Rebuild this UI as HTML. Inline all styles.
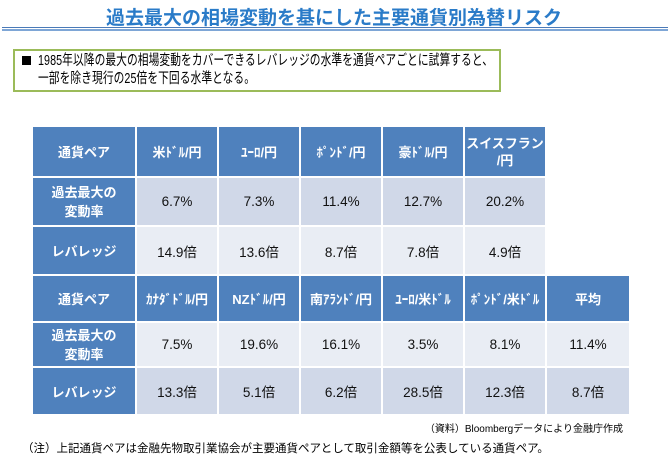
<!DOCTYPE html><html><head><meta charset="utf-8"><style>
body{margin:0;width:668px;height:461px;background:#fff;font-family:"Liberation Sans","Noto Sans CJK JP",sans-serif;position:relative;overflow:hidden}
.t{position:absolute;left:0;width:668px;top:3px;text-align:center;font-size:19px;font-weight:bold;color:#2a7bc8}
.l1{position:absolute;left:2px;width:666px;top:27px;height:1px;background:#4a7ab8}
.l2{position:absolute;left:2px;width:666px;top:29px;height:2px;background:#7ea6d6}
.box{position:absolute;left:13px;top:49px;width:484px;height:39px;border:2px solid #9bbb59;font-size:14.5px;line-height:18px}
.box .sq{position:absolute;left:7px;top:5px;width:9px;height:9px;background:#000}
.box .tx{position:absolute;left:23px;top:1px;white-space:nowrap;letter-spacing:0.1px;transform:scaleX(0.74);transform-origin:0 0}
table{position:absolute;border-collapse:collapse;font-size:13.5px;table-layout:fixed}
td{border:2px solid #fff;text-align:center;padding:0;color:#111;white-space:nowrap;overflow:hidden}
td.h{background:#4f81bd;color:#fff;font-weight:bold;font-size:13px}
.d{background:#d0d8e8}.e{background:#e9edf4}
.n1{position:absolute;right:45px;top:420px;font-size:10px}
.n2{position:absolute;left:22px;top:440px;font-size:11.5px}
</style></head><body>
<div class="t">過去最大の相場変動を基にした主要通貨別為替リスク</div>
<div class="l1"></div><div class="l2"></div>
<div class="box"><div class="sq"></div><div class="tx">1985年以降の最大の相場変動をカバーできるレバレッジの水準を通貨ペアごとに試算すると、<br>一部を除き現行の25倍を下回る水準となる。</div></div>
<table style="left:31px;top:125px;width:598px">
<colgroup><col style="width:104px"><col style="width:82px"><col style="width:82px"><col style="width:82px"><col style="width:82px"><col style="width:82px"><col style="width:84px"></colgroup>
<tr style="height:51px"><td class="h">通貨ペア</td><td class="h">米ﾄﾞﾙ/円</td><td class="h">ﾕｰﾛ/円</td><td class="h">ﾎﾟﾝﾄﾞ/円</td><td class="h">豪ﾄﾞﾙ/円</td><td class="h" style="line-height:17px">スイスフラン<br>/円</td><td style="border:none"></td></tr>
<tr style="height:49px"><td class="h" style="line-height:19px">過去最大の<br>変動率</td><td class="d">6.7%</td><td class="d">7.3%</td><td class="d">11.4%</td><td class="d">12.7%</td><td class="d">20.2%</td><td style="border:none"></td></tr>
<tr style="height:49px"><td class="h">レバレッジ</td><td class="e">14.9倍</td><td class="e">13.6倍</td><td class="e">8.7倍</td><td class="e">7.8倍</td><td class="e">4.9倍</td><td style="border:none"></td></tr>
<tr style="height:47px"><td class="h">通貨ペア</td><td class="h">ｶﾅﾀﾞﾄﾞﾙ/円</td><td class="h">NZﾄﾞﾙ/円</td><td class="h">南ｱﾗﾝﾄﾞ/円</td><td class="h">ﾕｰﾛ/米ﾄﾞﾙ</td><td class="h">ﾎﾟﾝﾄﾞ/米ﾄﾞﾙ</td><td class="h">平均</td></tr>
<tr style="height:45px"><td class="h" style="line-height:19px">過去最大の<br>変動率</td><td class="e">7.5%</td><td class="e">19.6%</td><td class="e">16.1%</td><td class="e">3.5%</td><td class="e">8.1%</td><td class="e">11.4%</td></tr>
<tr style="height:48px"><td class="h">レバレッジ</td><td class="d">13.3倍</td><td class="d">5.1倍</td><td class="d">6.2倍</td><td class="d">28.5倍</td><td class="d">12.3倍</td><td class="d">8.7倍</td></tr>
</table>
<div class="n1">（資料）Bloombergデータにより金融庁作成</div>
<div class="n2">（注）上記通貨ペアは金融先物取引業協会が主要通貨ペアとして取引金額等を公表している通貨ペア。</div>
</body></html>
